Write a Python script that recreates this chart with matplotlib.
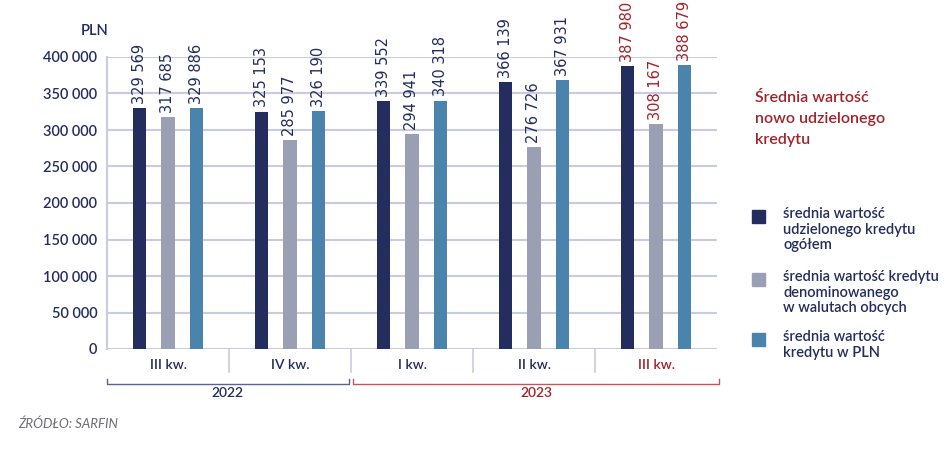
import matplotlib.pyplot as plt
import matplotlib.patches as mpatches
import numpy as np

quarters = ["III kw.", "IV kw.", "I kw.", "II kw.", "III kw."]
years = ["2022", "2023"]
total = [329569, 325153, 339552, 366139, 387980]
foreign = [317685, 285977, 294941, 276726, 308167]
pln = [329886, 326190, 340318, 367931, 388679]
series_names = ["średnia wartość\nudzielonego kredytu\nogółem",
                "średnia wartość kredytu\ndenominowanego\nw walutach obcych",
                "średnia wartość\nkredytu w PLN"]

NAVY = "#232d5e"
GREY = "#9b9fb4"
BLUE = "#4a83ab"
RED = "#a3222a"
GRID = "#c9cce0"

plt.rcParams['font.family'] = ['Lato', 'DejaVu Sans']
plt.rcParams['font.weight'] = 'semibold'

fig = plt.figure(figsize=(9.48, 4.51), dpi=100)
ax = fig.add_axes([107 / 948, 102 / 451, 610 / 948, 292 / 451])

locs = np.arange(len(quarters)) + 0.5
width = 0.107
step = 0.23
colors = [NAVY, GREY, BLUE]
for k, vals in enumerate([total, foreign, pln]):
    xs = locs + (k - 1) * step
    ax.bar(xs, vals, width, color=colors[k], zorder=3)
    for i, (x, v) in enumerate(zip(xs, vals)):
        txt = f"{v:,}".replace(",", " ")
        ax.annotate(txt, (x, v), xytext=(0, 3), textcoords="offset points",
                    rotation=90, ha="center", va="bottom", fontsize=10.5,
                    family="Liberation Sans Narrow", weight="normal",
                    color=RED if i == len(quarters) - 1 else NAVY)

ax.set_xlim(0, 5)
ax.set_ylim(0, 400000)
ax.set_yticks(np.arange(0, 400001, 50000))
ax.set_yticklabels([f"{int(t):,}".replace(",", " ") for t in ax.get_yticks()],
                   fontsize=10.5, color=NAVY)
ax.tick_params(axis="y", length=0, pad=7)
ax.set_xticks([])
ax.grid(axis="y", color=GRID, linewidth=1.5, zorder=0)
for s in ["top", "right", "bottom"]:
    ax.spines[s].set_visible(False)
ax.spines["left"].set_color(GRID)
ax.spines["left"].set_linewidth(1.5)
ax.spines["left"].set_zorder(0)

ax.text(-0.02, 1.09, "PLN", transform=ax.transAxes, ha="center", va="center",
        fontsize=10.5, color=NAVY)

# category labels and separators below the axis
trans = ax.get_xaxis_transform()
for b in range(1, 5):
    ax.plot([b, b], [0, -0.079], transform=trans, clip_on=False,
            color=GRID, linewidth=1.2)
for i, (x, q) in enumerate(zip(locs, quarters)):
    ax.text(x, -0.055, q, transform=trans, ha="center", va="center",
            fontsize=10, color=RED if i == len(quarters) - 1 else NAVY)

# year brackets
brackets = [(0.0, 1.98, NAVY, "#5a6391"), (2.02, 5.02, RED, "#c0575c")]
for year, (x0, x1, tc, lc) in zip(years, brackets):
    ax.plot([x0, x0, x1, x1], [-0.103, -0.12, -0.12, -0.103], transform=trans,
            clip_on=False, color=lc, linewidth=1.0)
    ax.text((x0 + x1) / 2, -0.152, year, transform=trans, ha="center",
            va="center", fontsize=10, color=tc)

fig.text(18 / 948, 1 - 424 / 451, "ŹRÓDŁO: SARFIN", fontsize=9.5,
         style="italic", weight="normal", color="#6d6e71", va="center")

# title on the right
fig.text(755 / 948, 1 - 91 / 451, "Średnia wartość\nnowo udzielonego\nkredytu",
         fontsize=11.5, color=RED, va="top", linespacing=1.65,
         multialignment="left")

# legend
leg_y = [217, 280, 340]
for name, col, y in zip(series_names, colors, leg_y):
    fig.add_artist(mpatches.Rectangle((752 / 948, 1 - (y + 6) / 451),
                                      13 / 948, 13 / 451, color=col,
                                      transform=fig.transFigure))
    fig.text(783 / 948, 1 - (y - 10) / 451, name, fontsize=10.5, color=NAVY,
             va="top", linespacing=1.15, multialignment="left")

fig.savefig("out.png", dpi=100)
